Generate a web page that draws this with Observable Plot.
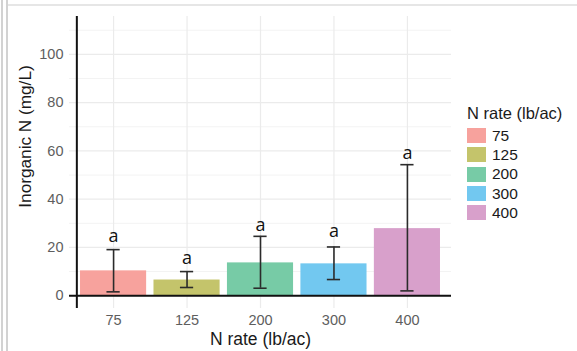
<!DOCTYPE html>
<html>
<head>
<meta charset="utf-8">
<script src="https://cdn.jsdelivr.net/npm/d3@7"></script>
<script src="https://cdn.jsdelivr.net/npm/@observablehq/plot@0.6"></script>
<style>
  html, body { margin: 0; padding: 0; background: #fff; }
  #wrap { position: relative; width: 577px; height: 351px; overflow: hidden; font-family: "Liberation Sans", Arial, sans-serif; }
  .bl { position: absolute; background: #d2d2d2; }
  #legend { position: absolute; left: 467px; top: 102px; font-family: "Liberation Sans", Arial, sans-serif; color: #1a1a1a; }
  #legend .title { font-size: 16.5px; height: 22px; line-height: 22px; margin-bottom: 2px; white-space: nowrap; }
  #legend .row { display: flex; align-items: center; height: 19.3px; }
  #legend .sw { width: 19px; height: 15px; margin-right: 6px; }
  #legend .lab { font-size: 15.5px; }
  svg g[aria-label="y-axis tick label"], svg g[aria-label="x-axis tick label"] { font-size: 14.5px; }
  svg g[aria-label="y-axis tick label"] text, svg g[aria-label="x-axis tick label"] text { fill: #5e5e5e; font-size: 14.5px; }
</style>
</head>
<body>
<div id="wrap"></div>
<script>
const categories = ["75", "125", "200", "300", "400"];
const means = [10.3, 6.5, 13.6, 13.2, 27.8];
const lower = [1.6, 3.4, 3.1, 6.7, 2.0];
const upper = [19.1, 10.0, 24.6, 20.2, 54.3];
const letters = ["a", "a", "a", "a", "a"];
const letterY = [24.5, 15.5, 29.2, 26.7, 59.1];
const colors = ["#f7a29d", "#c4c46b", "#77cba6", "#72c8f0", "#d8a0cb"];
const yTicks = [0, 20, 40, 60, 80, 100];
const yMinor = [10, 30, 50, 70, 90, 110];
const xTitle = "N rate (lb/ac)";
const yTitle = "Inorganic N (mg/L)";
const legendTitle = "N rate (lb/ac)";

const data = categories.map((c, k) => ({
  cat: c, i: k + 1, mean: means[k], lower: lower[k], upper: upper[k],
  letter: letters[k], ly: letterY[k]
}));
const idx = data.map(d => d.i);

const chart = Plot.plot({
  width: 577, height: 351,
  marginLeft: 69, marginRight: 126, marginTop: 16, marginBottom: 43,
  style: { fontFamily: "Liberation Sans, Arial, sans-serif", background: "transparent" },
  x: { domain: [0.4, 5.6] },
  y: { domain: [-5.3, 115.7] },
  color: { domain: categories, range: colors },
  marks: [
    Plot.gridY(yMinor, { stroke: "#f3f3f3", strokeOpacity: 1, strokeWidth: 1 }),
    Plot.gridY(yTicks, { stroke: "#ebebeb", strokeOpacity: 1, strokeWidth: 1.2 }),
    Plot.gridX(idx, { stroke: "#ebebeb", strokeOpacity: 1, strokeWidth: 1.2 }),
    Plot.rectY(data, { x1: d => d.i - 0.45, x2: d => d.i + 0.45, y1: 0, y2: "mean", fill: "cat" }),
    Plot.ruleY([0], { stroke: "#111", strokeWidth: 2 }),
    Plot.ruleX([0.5], { stroke: "#111", strokeWidth: 2 }),
    Plot.ruleX(data, { x: "i", y1: "lower", y2: "upper", stroke: "#2b2b2b", strokeWidth: 1.6 }),
    Plot.ruleY(data, { y: "upper", x1: d => d.i - 0.09, x2: d => d.i + 0.09, stroke: "#2b2b2b", strokeWidth: 1.6 }),
    Plot.ruleY(data, { y: "lower", x1: d => d.i - 0.09, x2: d => d.i + 0.09, stroke: "#2b2b2b", strokeWidth: 1.6 }),
    Plot.text(data, { x: "i", y: "ly", text: "letter", fontSize: 18, fill: "#111", fontFamily: "Open Sans, sans-serif" }),
    Plot.axisY({ ticks: yTicks, tickSize: 0, tickPadding: 6, fontSize: 14.5, label: null }),
    Plot.axisX({ ticks: idx, tickFormat: i => categories[i - 1], tickSize: 0, tickPadding: 6, fontSize: 14.5, label: null }),
    Plot.text([xTitle], { frameAnchor: "bottom", lineAnchor: "middle", textAnchor: "middle", dy: 31, fontSize: 17.5, fill: "#1a1a1a" }),
    Plot.text([yTitle], { frameAnchor: "left", lineAnchor: "middle", textAnchor: "middle", rotate: -90, dx: -44, dy: -26, fontSize: 17.2, fill: "#1a1a1a" })
  ]
});

const wrap = document.getElementById("wrap");
wrap.appendChild(chart);
chart.style.position = "absolute";
chart.style.left = "0px";
chart.style.top = "0px";

// screenshot frame lines
[[1, 0, 2, 351], [6, 0, 2, 351], [8, 4, 569, 2]].forEach(([l, t, w, h], k) => {
  const d = document.createElement("div");
  d.className = "bl";
  d.style.left = l + "px"; d.style.top = t + "px"; d.style.width = w + "px"; d.style.height = h + "px";
  if (k === 2) d.style.background = "#e6e6e6";
  wrap.appendChild(d);
});

const leg = document.createElement("div");
leg.id = "legend";
const t = document.createElement("div");
t.className = "title"; t.textContent = legendTitle;
leg.appendChild(t);
categories.forEach((c, k) => {
  const r = document.createElement("div"); r.className = "row";
  const s = document.createElement("div"); s.className = "sw"; s.style.background = colors[k];
  const l = document.createElement("div"); l.className = "lab"; l.textContent = c;
  r.appendChild(s); r.appendChild(l); leg.appendChild(r);
});
wrap.appendChild(leg);
</script>
</body>
</html>
